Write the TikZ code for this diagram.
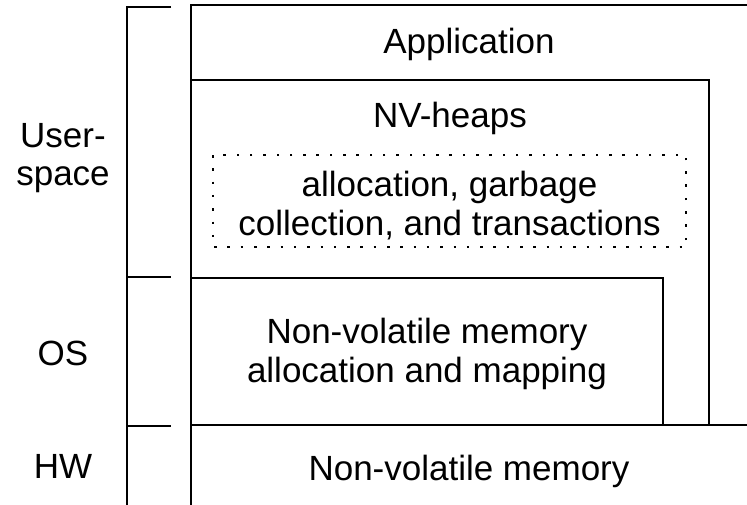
\documentclass[tikz,border=0pt]{standalone}
\usepackage{fontspec}
\setmainfont{Liberation Sans}
\begin{document}
\begin{tikzpicture}[x=1pt,y=-1pt,
  rule/.style={line width=2.9pt},
  lbl/.style={anchor=base,inner sep=0pt,font=\fontsize{35}{39}\selectfont},
  dotbox/.style={line width=2.5pt,dash pattern=on 2.5pt off 10.8pt}]
\useasboundingbox (0,0) rectangle (747,504);
\begin{scope}
  \clip (0,0) rectangle (747,504);
  % layer frames
  \draw[rule] (191,520) -- (191,5) -- (760,5);
  \draw[rule] (191,80) -- (709,80) -- (709,425);
  \draw[rule] (191,278) -- (663,278) -- (663,425);
  \draw[rule] (191,425) -- (760,425);
  % privilege bracket on the left
  \draw[rule] (171,7) -- (127,7) -- (127,520);
  \draw[rule] (127,277) -- (171,277);
  \draw[rule] (127,426) -- (171,426);
\end{scope}
% services inside NV-heaps
\draw[dotbox] (213,155) rectangle (686,247);

\node[lbl] (app) at (469,53) {Application};
\node[lbl] (nvh) at (450,127) {NV-heaps};
\node[lbl] (gc1) at (449.5,196) {allocation, garbage};
\node[lbl] (gc2) at (449.5,235) {collection, and transactions};
\node[lbl] (os1) at (427,343) {Non-volatile memory};
\node[lbl] (os2) at (427,382) {allocation and mapping};
\node[lbl] (hw) at (469,480) {Non-volatile memory};
\node[lbl] (us1) at (63,147) {User-};
\node[lbl] (us2) at (63,185) {space};
\node[lbl] (osl) at (63,365) {OS};
\node[lbl] (hwl) at (63,478) {HW};
\end{tikzpicture}
\end{document}
